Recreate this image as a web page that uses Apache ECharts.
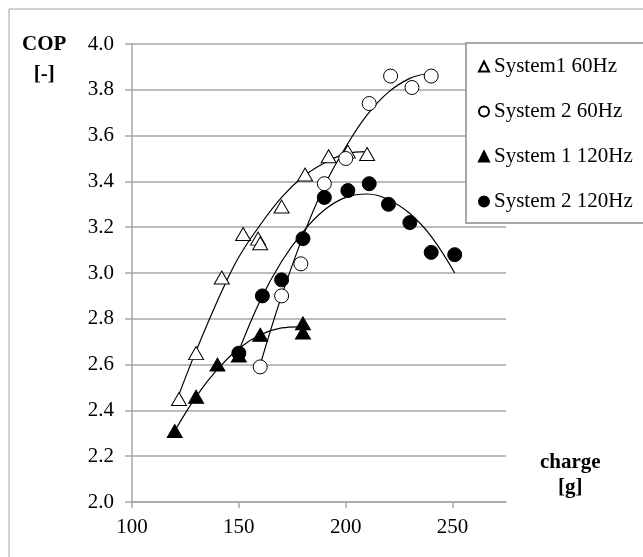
<!DOCTYPE html>
<html>
<head>
<meta charset="utf-8">
<script src="https://cdn.jsdelivr.net/npm/echarts@6/dist/echarts.min.js"></script>
<style>
html, body { margin: 0; padding: 0; background: #fff; }
#chart { width: 643px; height: 557px; }
</style>
</head>
<body>
<div id="chart"></div>
<script>
// tick labels
var xTicks = [100, 150, 200, 250];
var yTicks = [2.0, 2.2, 2.4, 2.6, 2.8, 3.0, 3.2, 3.4, 3.6, 3.8, 4.0];

// measured points [charge g, COP]
var sys1_60 = [[122, 2.45], [130, 2.65], [142, 2.98], [152, 3.17], [159, 3.15], [160, 3.13],
    [170, 3.29], [181, 3.43], [192, 3.51], [201, 3.53], [210, 3.52]];
var sys2_60 = [[160, 2.59], [170, 2.90], [179, 3.04], [190, 3.39], [200, 3.50], [211, 3.74],
    [221, 3.86], [231, 3.81], [240, 3.86]];
var sys1_120 = [[120, 2.31], [130, 2.46], [140, 2.60], [150, 2.64], [160, 2.73], [180, 2.78], [180, 2.74]];
var sys2_120 = [[150, 2.65], [161, 2.90], [170, 2.97], [180, 3.15], [190, 3.33], [201, 3.36],
    [211, 3.39], [220, 3.30], [230, 3.22], [240, 3.09], [251, 3.08]];

// trend curves
var fit1_60 = [[122, 2.47], [130, 2.66], [142, 2.92], [150, 3.07], [160, 3.21], [170, 3.33],
    [180, 3.42], [190, 3.48], [200, 3.52], [210, 3.53]];
var fit2_60 = [[160, 2.60], [170, 2.90], [180, 3.16], [190, 3.38], [200, 3.55], [210, 3.69],
    [220, 3.79], [230, 3.85], [238, 3.87]];
var fit1_120 = [[120, 2.31], [130, 2.46], [140, 2.58], [150, 2.67], [160, 2.73], [170, 2.76], [178, 2.765]];
var fit2_120 = [[150, 2.66], [160, 2.88], [170, 3.05], [180, 3.18], [190, 3.275], [200, 3.33],
    [210, 3.345], [220, 3.32], [230, 3.26], [240, 3.16], [251, 3.00]];

var names = ['System1 60Hz', 'System 2 60Hz', 'System 1 120Hz', 'System 2 120Hz'];

var serif = 'Liberation Serif';
var gray = '#a6a6a6';

var myChart = echarts.init(document.getElementById('chart'));

function fitLine(d) {
    return {
        type: 'line', data: d, smooth: 0.4, symbol: 'none', silent: true, z: 2,
        lineStyle: { color: '#000', width: 1.2 }
    };
}

function dots(name, d, sym, size, filled) {
    return {
        name: name, type: 'scatter', data: d, symbol: sym, symbolSize: size, z: 3,
        itemStyle: { color: filled ? '#000' : '#fff', borderColor: '#000', borderWidth: 1, opacity: 1 }
    };
}

var option = {
    animation: false,
    backgroundColor: '#fff',
    grid: { left: 132, right: 137, top: 44, bottom: 55 },
    xAxis: {
        type: 'value', min: 100, max: 275, interval: 50,
        axisLine: { lineStyle: { color: gray, width: 1.5 } },
        axisTick: { show: true, length: 6, customValues: xTicks, lineStyle: { color: gray, width: 1.5 } },
        axisLabel: { customValues: xTicks, margin: 15, color: '#000', fontFamily: serif, fontSize: 21 },
        splitLine: { show: false }
    },
    yAxis: {
        type: 'value', min: 2.0, max: 4.0, interval: 0.2,
        axisLine: { show: true, lineStyle: { color: gray, width: 1.5 } },
        axisTick: { show: true, length: 7, customValues: yTicks, lineStyle: { color: gray, width: 1.5 } },
        axisLabel: {
            customValues: yTicks, margin: 18, color: '#000', fontFamily: serif, fontSize: 21,
            formatter: function (v) { return v.toFixed(1); }
        },
        splitLine: { lineStyle: { color: gray, width: 1.5 } }
    },
    legend: {
        data: names, orient: 'vertical', left: 466, top: 43,
        padding: [13, 12, 11, 12], itemGap: 24, itemWidth: 10, itemHeight: 10,
        backgroundColor: '#fff', borderColor: '#8c8c8c', borderWidth: 1.5,
        textStyle: { color: '#000', fontFamily: serif, fontSize: 21 }
    },
    graphic: [
        { type: 'rect', z: -10, shape: { x: 9, y: 9, width: 700, height: 600 },
          style: { fill: 'none', stroke: '#a0a0a0', lineWidth: 1 } },
        { type: 'text', left: 22, top: 30,
          style: { text: 'COP\n[-]', fill: '#000', font: 'bold 21px "Liberation Serif"', textAlign: 'center', lineHeight: 30 } },
        { type: 'text', left: 540, top: 450,
          style: { text: 'charge\n[g]', fill: '#000', font: 'bold 21px "Liberation Serif"', textAlign: 'center', lineHeight: 25 } }
    ],
    series: [
        fitLine(fit1_60), fitLine(fit2_60), fitLine(fit1_120), fitLine(fit2_120),
        dots(names[0], sys1_60, 'triangle', [15, 13], false),
        dots(names[1], sys2_60, 'circle', 14, false),
        dots(names[2], sys1_120, 'triangle', [15, 13], true),
        dots(names[3], sys2_120, 'circle', 14, true)
    ]
};

myChart.setOption(option);
</script>
</body>
</html>
